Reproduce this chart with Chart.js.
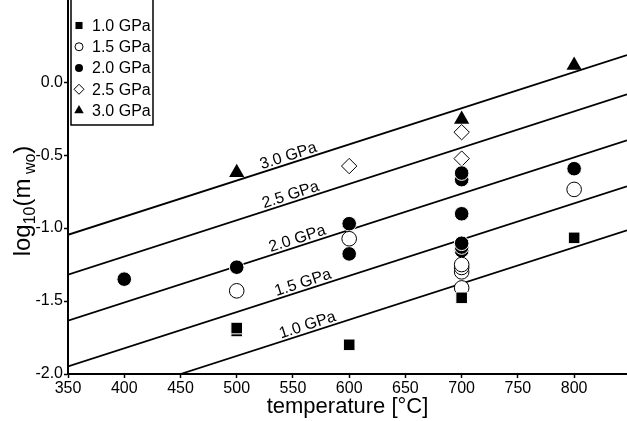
<!DOCTYPE html>
<html>
<head>
<meta charset="utf-8">
<script src="https://cdn.jsdelivr.net/npm/chart.js@4.4.1/dist/chart.umd.min.js"></script>
<style>
  html, body { margin: 0; padding: 0; background: #fff; }
  #wrap { width: 627px; height: 421px; }
</style>
</head>
<body>
<div id="wrap"><canvas id="chart" width="627" height="421"></canvas></div>
<script>
// legend / series names
const pressures = ['1.0 GPa', '1.5 GPa', '2.0 GPa', '2.5 GPa', '3.0 GPa'];

// measured points: [temperature °C, log10(m wo)]
const pts10 = [[500, -1.705], [500, -1.685], [600, -1.80], [700, -1.478], [800, -1.067]];
const pts15 = [[500, -1.43], [600, -1.073], [700, -1.41], [700, -1.30], [700, -1.27], [700, -1.25], [800, -0.735]];
const pts20 = [[400, -1.35], [500, -1.268], [600, -1.177], [600, -0.97], [700, -1.155], [700, -1.13], [700, -1.104],
               [700, -0.902], [700, -0.668], [700, -0.623], [800, -0.593]];
const pts25 = [[600, -0.575], [700, -0.524], [700, -0.343]];
const pts30 = [[500, -0.62], [700, -0.255], [800, 0.116]];

// fitted isobars (start and end)
const iso10 = [[450, -2.0], [847, -1.016]];
const iso15 = [[350, -1.948], [847, -0.714]];
const iso20 = [[350, -1.635], [847, -0.398]];
const iso25 = [[350, -1.319], [847, -0.084]];
const iso30 = [[350, -1.046], [847, 0.185]];

const xTicks = [350, 400, 450, 500, 550, 600, 650, 700, 750, 800];
const yTicks = [-2.0, -1.5, -1.0, -0.5, 0.0];

const FONT = 'Arial, "Liberation Sans", sans-serif';
Chart.defaults.font.family = FONT;
Chart.defaults.color = '#000';

const toXY = arr => arr.map(p => ({ x: p[0], y: p[1] }));

// marker look for each pressure (same order as pressures)
const markers = [
    { style: 'rect',     r: 8.2, fill: '#000', stroke: '#fff', bw: 1 },
    { style: 'circle',   r: 7.3, fill: '#fff', stroke: '#000', bw: 1 },
    { style: 'circle',   r: 7.3, fill: '#000', stroke: '#fff', bw: 1 },
    { style: 'rectRot',  r: 7.7, fill: '#fff', stroke: '#000', bw: 1 },
    { style: 'triangle', r: 8.8, fill: '#000', stroke: '#000', bw: 0 }
];
const pointSets = [pts10, pts15, pts20, pts25, pts30];
const isoSets = [iso10, iso15, iso20, iso25, iso30];

const datasets = [];
pointSets.forEach((pts, i) => {
    const m = markers[i];
    datasets.push({
        label: pressures[i],
        data: toXY(pts),
        pointStyle: m.style,
        pointRadius: m.r,
        backgroundColor: m.fill,
        borderColor: m.stroke,
        borderWidth: m.bw,
        order: 0
    });
});
isoSets.forEach((seg, i) => {
    datasets.push({
        label: 'iso ' + pressures[i],
        data: toXY(seg),
        showLine: true,
        pointRadius: 0,
        borderColor: '#000',
        borderWidth: 1.8,
        order: 1
    });
});

// isobar labels written along the lines
const isoLabels = {
    id: 'isoLabels',
    afterDatasetsDraw(chart, args, opts) {
        const ctx = chart.ctx, xs = chart.scales.x, ys = chart.scales.y;
        ctx.save();
        ctx.font = '16px ' + FONT;
        ctx.fillStyle = '#000';
        ctx.textAlign = 'center';
        ctx.textBaseline = 'alphabetic';
        isoSets.forEach((seg, i) => {
            const t = opts.at[i];
            const [a, b] = seg;
            const v = a[1] + (b[1] - a[1]) * (t - a[0]) / (b[0] - a[0]);
            const px = xs.getPixelForValue(t), py = ys.getPixelForValue(v);
            const ang = Math.atan2(ys.getPixelForValue(b[1]) - ys.getPixelForValue(a[1]),
                                   xs.getPixelForValue(b[0]) - xs.getPixelForValue(a[0]));
            ctx.save();
            ctx.translate(px, py);
            ctx.rotate(ang);
            ctx.fillText(pressures[i], 0, -3);
            ctx.restore();
        });
        ctx.restore();
    }
};

// boxed legend in the upper left corner
const boxLegend = {
    id: 'boxLegend',
    afterDraw(chart, args, opts) {
        const ctx = chart.ctx;
        ctx.save();
        ctx.fillStyle = '#fff';
        ctx.fillRect(opts.left, opts.top, opts.w, opts.h);
        ctx.strokeStyle = '#000';
        ctx.lineWidth = 1.5;
        ctx.strokeRect(opts.left, opts.top, opts.w, opts.h);
        ctx.font = '16px ' + FONT;
        ctx.textBaseline = 'middle';
        ctx.textAlign = 'left';
        pressures.forEach((name, i) => {
            const y = opts.first + i * opts.step;
            const m = markers[i];
            const o = {
                pointStyle: m.style, radius: opts.r[i], rotation: 0,
                borderWidth: m.fill === '#fff' ? 1 : 0
            };
            ctx.fillStyle = m.fill;
            ctx.strokeStyle = '#000';
            ctx.lineWidth = 1;
            Chart.helpers.drawPoint(ctx, o, opts.left + 8, y);
            ctx.fillStyle = '#000';
            ctx.fillText(name, opts.left + 21, y + 1);
        });
        ctx.restore();
    }
};

// y title with subscripts
const yTitle = {
    id: 'yTitle',
    afterDraw(chart, args, opts) {
        const ctx = chart.ctx;
        const parts = [
            ['log', 24, 0], ['10', 16, 5], ['(m', 24, 0], [' wo', 16, 5], [')', 24, 0]
        ];
        ctx.save();
        let total = 0;
        parts.forEach(p => { ctx.font = p[1] + 'px ' + FONT; total += ctx.measureText(p[0]).width; });
        ctx.translate(0, opts.cy);
        ctx.rotate(-Math.PI / 2);
        ctx.fillStyle = '#000';
        ctx.textBaseline = 'alphabetic';
        let u = -total / 2;
        parts.forEach(p => {
            ctx.font = p[1] + 'px ' + FONT;
            ctx.fillText(p[0], u, opts.base + p[2]);
            u += ctx.measureText(p[0]).width;
        });
        ctx.restore();
    }
};

new Chart(document.getElementById('chart'), {
    type: 'scatter',
    data: { datasets },
    options: {
        responsive: false,
        animation: false,
        events: [],
        layout: { padding: 0, autoPadding: false },
        plugins: {
            legend: { display: false },
            tooltip: { enabled: false },
            isoLabels: { at: [565, 561, 556, 550, 548] },
            boxLegend: { left: 71, top: -1, w: 82, h: 126, first: 25.5, step: 21.25, r: [5, 4, 4, 5, 5.5] },
            yTitle: { cy: 201, base: 30 }
        },
        scales: {
            x: {
                type: 'linear',
                min: 350, max: 847,
                afterBuildTicks: s => { s.ticks = xTicks.map(v => ({ value: v })); },
                afterFit: s => { s.height = 47; s.paddingLeft = 0; s.paddingRight = 0; },
                grid: { drawOnChartArea: false, drawTicks: true, tickLength: 4, tickColor: '#000', tickWidth: 1.5 },
                border: { display: true, color: '#000', width: 2 },
                ticks: { font: { size: 16 }, color: '#000', padding: 1, maxRotation: 0 },
                title: { display: true, text: 'temperature [°C]', font: { size: 22 }, color: '#000', padding: { top: 0, bottom: 1 } }
            },
            y: {
                type: 'linear',
                min: -2.0, max: 0.563,
                afterBuildTicks: s => { s.ticks = yTicks.map(v => ({ value: v })); },
                afterFit: s => { s.width = 68; s.paddingTop = 0; s.paddingBottom = 0; },
                grid: { drawOnChartArea: false, drawTicks: true, tickLength: 4, tickColor: '#000', tickWidth: 1.5 },
                border: { display: true, color: '#000', width: 2 },
                ticks: { font: { size: 16 }, color: '#000', padding: 1, callback: v => v.toFixed(1) }
            }
        }
    },
    plugins: [isoLabels, boxLegend, yTitle]
});
</script>
</body>
</html>
